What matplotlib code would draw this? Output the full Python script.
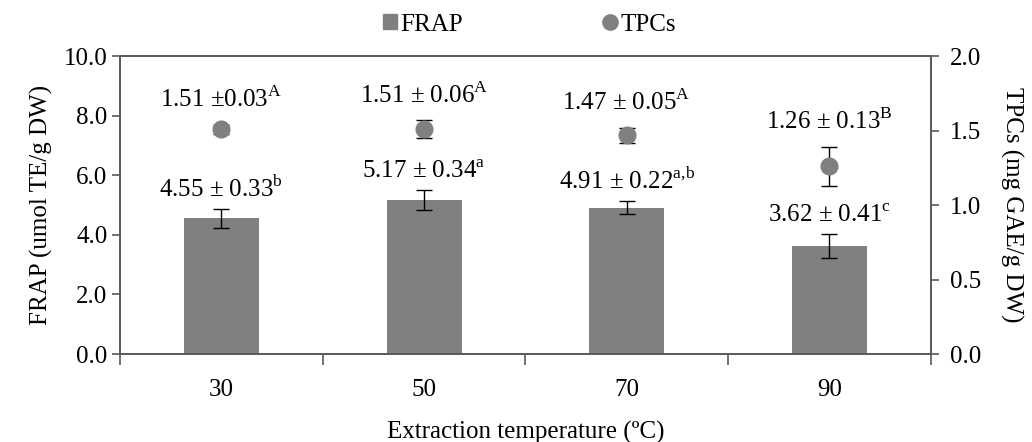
import numpy as np
import matplotlib
matplotlib.use('Agg')
import matplotlib.pyplot as plt
from matplotlib.ticker import FixedLocator
from matplotlib.lines import Line2D
from matplotlib.patches import Patch

plt.rcParams['font.family'] = 'Liberation Serif'
plt.rcParams['mathtext.fontset'] = 'custom'
plt.rcParams['mathtext.rm'] = 'Liberation Serif'

# data
temps = ['30', '50', '70', '90']
frap = [4.55, 5.17, 4.91, 3.62]
frap_err = [0.33, 0.34, 0.22, 0.41]
frap_sig = ['b', 'a', 'a{,}b', 'c']
tpc = [1.51, 1.51, 1.47, 1.26]
tpc_err = [0.03, 0.06, 0.05, 0.13]
tpc_sig = ['A', 'A', 'A', 'B']
tpc_lbl = ['1.51 \u00b10.03', '1.51 \u00b1 0.06', '1.47 \u00b1 0.05', '1.26 \u00b1 0.13']

grey = '#808080'
axcol = '#595959'
fs = 18

fig = plt.figure(figsize=(10.32, 4.42), dpi=100)
ax = fig.add_axes([0.1163, 0.199, 0.7855, 0.674])
ax2 = ax.twinx()

x = np.arange(len(temps))
ax.bar(x, frap, width=0.37, color=grey, zorder=2)
ax.errorbar(x, frap, yerr=frap_err, fmt='none', ecolor='black', elinewidth=1,
            capsize=6, capthick=1, zorder=3)
for i in range(len(x)):
    ax.annotate('%.2f \u00b1 %.2f$^{\\mathrm{%s}}$' % (frap[i], frap_err[i], frap_sig[i]),
                (x[i], frap[i] + frap_err[i]), xytext=(0, 5), textcoords='offset points',
                ha='center', va='bottom', fontsize=fs)

# error bars under the markers
ax2.errorbar(x, tpc, yerr=tpc_err, fmt='none', ecolor='black', elinewidth=1,
             capsize=6, capthick=1, zorder=3)
ax2.plot(x, tpc, 'o', color=grey, markersize=12, ls='none', zorder=4)
for i in range(len(x)):
    ax2.annotate(tpc_lbl[i] + '$^{\\mathrm{%s}}$' % tpc_sig[i],
                 (x[i], tpc[i] + tpc_err[i]), xytext=(0, 9), textcoords='offset points',
                 ha='center', va='bottom', fontsize=fs)

ax.set_xlim(-0.5, 3.5)
ax.set_ylim(0, 10)
ax2.set_ylim(0, 2)
ax.set_yticks(np.arange(0, 10.1, 2))
ax.set_yticklabels(['%.1f' % v for v in np.arange(0, 10.1, 2)])
ax2.set_yticks(np.arange(0, 2.01, 0.5))
ax2.set_yticklabels(['%.1f' % v for v in np.arange(0, 2.01, 0.5)])

ax.xaxis.set_major_locator(FixedLocator(np.arange(-0.5, 3.6, 1)))
ax.xaxis.set_major_formatter(plt.NullFormatter())
ax.xaxis.set_minor_locator(FixedLocator(x))
ax.set_xticklabels(temps, minor=True)
ax.tick_params(axis='x', which='major', length=8, color=axcol, width=1.2)
ax.tick_params(axis='x', which='minor', length=0, pad=18, labelsize=fs)
ax.tick_params(axis='y', length=6, color=axcol, width=1.2, labelsize=fs, pad=3)
ax2.tick_params(axis='y', length=6, color=axcol, width=1.2, labelsize=fs, pad=8)

for a in (ax, ax2):
    for s in a.spines.values():
        s.set_color(axcol)
        s.set_linewidth(1.2)

ax.set_xlabel('Extraction temperature (\u00baC)', fontsize=fs, labelpad=14)
ax.set_ylabel('FRAP (umol TE/g DW)', fontsize=fs, labelpad=8)
ax2.set_ylabel('TPCs (mg GAE/g DW)', fontsize=fs, rotation=270, labelpad=30)

handles = [Patch(color=grey, label='FRAP'),
           Line2D([], [], marker='o', ls='none', color=grey, markersize=11, label='TPCs')]
fig.legend(handles=handles, ncol=2, frameon=False, fontsize=fs,
           loc='upper center', bbox_to_anchor=(0.513, 1.02), columnspacing=5.6,
           handlelength=0.55, handleheight=0.55, handletextpad=0.15)

fig.savefig('out.png', dpi=100)
